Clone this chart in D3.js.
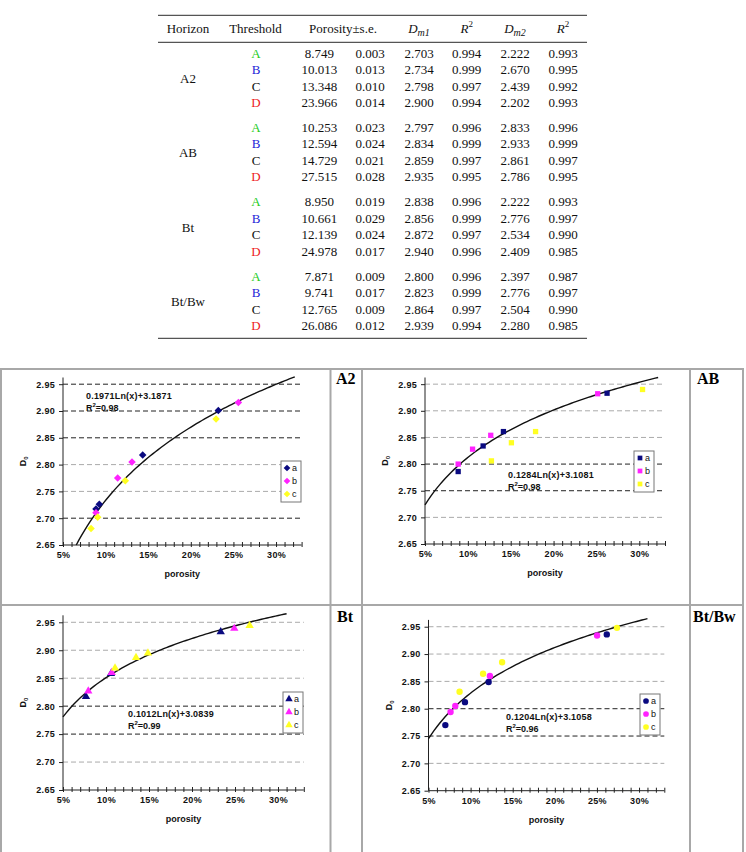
<!DOCTYPE html>
<html lang="en">
<head>
<meta charset="UTF-8">
<title>Porosity and D0</title>
<script src="https://cdn.jsdelivr.net/npm/d3@7"></script>
<style>
    body { margin: 0; background: #fff; }
    svg { display: block; }
    .tbl { font-family: "Liberation Serif", "Times New Roman", serif; font-size: 13px; fill: #111; }
    .chart text { font-family: "Liberation Sans", Arial, sans-serif; fill: #111; }
    .tick-lbl { font-size: 9px; font-weight: bold; letter-spacing: 0.3px; }
    .panel-lbl { font-size: 16px; font-weight: bold; }
</style>
</head>
<body>
<script>
// ---------------- table data ----------------
const horizons = ["A2", "AB", "Bt", "Bt/Bw"];
const thresholds = ["A", "B", "C", "D"];
const thresholdColors = ["#22cc22", "#2323d8", "#111111", "#ee1c1c"];
const porosity = [[8.749, 10.013, 13.348, 23.966], [10.253, 12.594, 14.729, 27.515], [8.950, 10.661, 12.139, 24.978], [7.871, 9.741, 12.765, 26.086]];
const porositySE = [[0.003, 0.013, 0.010, 0.014], [0.023, 0.024, 0.021, 0.028], [0.019, 0.029, 0.024, 0.017], [0.009, 0.017, 0.009, 0.012]];
const dm1 = [[2.703, 2.734, 2.798, 2.900], [2.797, 2.834, 2.859, 2.935], [2.838, 2.856, 2.872, 2.940], [2.800, 2.823, 2.864, 2.939]];
const r2m1 = [[0.994, 0.999, 0.997, 0.994], [0.996, 0.999, 0.997, 0.995], [0.996, 0.999, 0.997, 0.996], [0.996, 0.999, 0.997, 0.994]];
const dm2 = [[2.222, 2.670, 2.439, 2.202], [2.833, 2.933, 2.861, 2.786], [2.222, 2.776, 2.534, 2.409], [2.397, 2.776, 2.504, 2.280]];
const r2m2 = [[0.993, 0.995, 0.992, 0.993], [0.996, 0.999, 0.997, 0.995], [0.993, 0.997, 0.990, 0.985], [0.987, 0.997, 0.990, 0.985]];

// ---------------- chart data (porosity %, D0) ----------------
const seriesNames = ["a", "b", "c"];
const seriesColors = ["#0a0a80", "#ff22ff", "#ffff22"];
const ptsA2 = [
    [[8.87, 2.717], [9.26, 2.726], [14.35, 2.818], [23.23, 2.901]],
    [[8.87, 2.710], [11.42, 2.775], [13.10, 2.805], [25.58, 2.916]],
    [[8.29, 2.681], [9.07, 2.702], [12.31, 2.770], [22.96, 2.885]]
];
const ptsAB = [
    [[8.87, 2.786], [11.78, 2.834], [14.15, 2.861], [26.24, 2.933]],
    [[8.87, 2.800], [10.55, 2.828], [12.67, 2.854], [25.15, 2.932]],
    [[12.75, 2.806], [15.08, 2.840], [17.90, 2.861], [30.38, 2.940]]
];
const ptsBt = [
    [[7.67, 2.817], [10.58, 2.858], [23.34, 2.933]],
    [[7.94, 2.827], [10.66, 2.860], [24.92, 2.939]],
    [[11.05, 2.868], [13.49, 2.887], [14.88, 2.895], [26.70, 2.944]]
];
const ptsBtBw = [
    [[7.00, 2.770], [9.33, 2.812], [12.14, 2.849], [26.17, 2.936]],
    [[7.62, 2.794], [8.18, 2.805], [12.29, 2.860], [25.02, 2.934]],
    [[8.69, 2.831], [11.48, 2.864], [13.74, 2.885], [27.38, 2.948]]
];
// trendline y = a ln(x) + b
const trendSlope = [0.1971, 0.1284, 0.1012, 0.1204];
const trendIntercept = [3.1871, 3.1081, 3.0839, 3.1058];
const trendR2 = ["0.98", "0.98", "0.99", "0.96"];
const trendEnd = [0.322, 0.322, 0.31, 0.31];
const yTicks = [2.65, 2.70, 2.75, 2.80, 2.85, 2.90, 2.95];
const xTicks = d3.range(5, 34).map(d => d / 100);

// ---------------- layout ----------------
const W = 746, H = 852;
const svg = d3.select("body").append("svg").attr("width", W).attr("height", H);

/*------------------- table -------------------*/
const tbl = svg.append("g").attr("class", "tbl");
const colX = { hor: 188, thr: 256, por: 319.3, se: 370, dm1: 419, r1: 466.7, dm2: 515, r2: 563 };
const fmt = d3.format(".3f");

[15.3, 42.3, 338.3].forEach(y => {
    tbl.append("line").attr("x1", 158).attr("x2", 587).attr("y1", y).attr("y2", y)
        .attr("stroke", "#555").attr("stroke-width", 1.2);
});

// header
const hy = 33;
tbl.append("text").attr("x", colX.hor).attr("y", hy).attr("text-anchor", "middle").text("Horizon");
tbl.append("text").attr("x", 255.5).attr("y", hy).attr("text-anchor", "middle").text("Threshold");
tbl.append("text").attr("x", 343).attr("y", hy).attr("text-anchor", "middle").text("Porosity±s.e.");
function dHeader(x, sub) {
    const t = tbl.append("text").attr("x", x).attr("y", hy).attr("text-anchor", "middle");
    t.append("tspan").attr("font-style", "italic").text("D");
    t.append("tspan").attr("font-style", "italic").attr("font-size", "10px").attr("dy", 3).text(sub);
}
function rHeader(x) {
    const t = tbl.append("text").attr("x", x).attr("y", hy).attr("text-anchor", "middle");
    t.append("tspan").attr("font-style", "italic").text("R");
    t.append("tspan").attr("font-size", "9px").attr("dy", -6).text("2");
}
dHeader(colX.dm1, "m1");
rHeader(colX.r1);
dHeader(colX.dm2, "m2");
rHeader(colX.r2);

horizons.forEach((h, g) => {
    const rowY = r => 57.5 + g * 74.4 + r * 16.5;
    tbl.append("text").attr("x", colX.hor).attr("y", (rowY(0) + rowY(3)) / 2 + 0.5)
        .attr("text-anchor", "middle").text(h);
    thresholds.forEach((t, r) => {
        const y = rowY(r);
        tbl.append("text").attr("x", colX.thr).attr("y", y).attr("text-anchor", "middle")
            .style("fill", thresholdColors[r]).text(t);
        const vals = [[colX.por, porosity[g][r]], [colX.se, porositySE[g][r]], [colX.dm1, dm1[g][r]],
                      [colX.r1, r2m1[g][r]], [colX.dm2, dm2[g][r]], [colX.r2, r2m2[g][r]]];
        vals.forEach(([x, v]) => {
            tbl.append("text").attr("x", x).attr("y", y).attr("text-anchor", "middle").text(fmt(v));
        });
    });
});

/*------------------- panel frame -------------------*/
const frame = svg.append("g").attr("stroke", "#a8a8a8").attr("stroke-width", 2);
[[0, 369, 744, 369], [0, 605, 744, 605], [1, 369, 1, 852], [330.5, 369, 330.5, 852],
 [362, 369, 362, 852], [690, 369, 690, 852], [743, 369, 743, 852]].forEach(l => {
    frame.append("line").attr("x1", l[0]).attr("y1", l[1]).attr("x2", l[2]).attr("y2", l[3]);
});

/*------------------- charts -------------------*/
const panels = [
    { pts: ptsA2, sym: d3.symbolDiamond2, size: 36, left: 63, right: 301.6, bottom: 545, top: 377.5,
      dark: [2.95, 2.90, 2.85, 2.70], lblX: 336, lblY: 384, eqX: 86, eqY: 399, legX: 281, legY: 461 },
    { pts: ptsAB, sym: d3.symbolSquare, size: 28, left: 425, right: 665, bottom: 544, top: 377.5,
      dark: [2.80, 2.75], lblX: 697, lblY: 384, eqX: 508, eqY: 478, legX: 634, legY: 451 },
    { pts: ptsBt, sym: d3.symbolTriangle, size: 30, left: 63, right: 303.8, bottom: 790, top: 615.3,
      dark: [2.80, 2.75], lblX: 337, lblY: 622, eqX: 128, eqY: 717, legX: 283, legY: 692 },
    { pts: ptsBtBw, sym: d3.symbolCircle, size: 32, left: 428.5, right: 664.3, bottom: 790.7, top: 619.9,
      dark: [2.80, 2.75], lblX: 693, lblY: 622, eqX: 506, eqY: 720, legX: 640, legY: 694 }
];

panels.forEach((p, i) => {
    const g = svg.append("g").attr("class", "chart");
    const x = d3.scaleLinear().domain([0.05, 0.33]).range([p.left, p.right]);
    const y = d3.scaleLinear().domain([2.65, 2.9625]).range([p.bottom, p.top]);

    // gridlines
    g.selectAll(".grid").data(yTicks.slice(1)).enter().append("line")
        .attr("x1", p.left).attr("x2", p.right)
        .attr("y1", d => y(d)).attr("y2", d => y(d))
        .attr("stroke", d => p.dark.some(v => Math.abs(v - d) < 1e-6) ? "#222" : "#aaa")
        .attr("stroke-width", 1)
        .attr("stroke-dasharray", "5,3");

    // y axis
    const yAxis = g.append("g").attr("transform", `translate(${p.left},0)`)
        .call(d3.axisLeft(y).tickValues(yTicks).tickSize(4).tickFormat(d3.format(".2f")));
    yAxis.select(".domain").attr("stroke", "#222").attr("d", `M0,${p.bottom}V${p.top}`);
    yAxis.selectAll(".tick line").attr("stroke", "#222");
    yAxis.selectAll(".tick text").attr("class", "tick-lbl").attr("x", -8);

    // x axis
    const xAxis = g.append("g").attr("transform", `translate(0,${p.bottom})`)
        .call(d3.axisBottom(x).tickValues(xTicks).tickSize(2)
            .tickFormat(d => Math.round(d * 100) % 5 === 0 ? Math.round(d * 100) + "%" : ""));
    xAxis.select(".domain").attr("stroke", "#222").attr("d", `M${p.left},0H${p.right}`);
    xAxis.selectAll(".tick line").attr("stroke", "#222").attr("y1", -3);
    xAxis.selectAll(".tick text").attr("class", "tick-lbl").attr("y", 7);
    g.selectAll(".tick text").style("fill", "#111");

    // axis titles
    g.append("text").attr("x", (p.left + p.right) / 2).attr("y", p.bottom + 32)
        .attr("text-anchor", "middle").attr("font-size", "9px").attr("font-weight", "bold").text("porosity");
    const yt = g.append("text")
        .attr("transform", `translate(${p.left - 37},${(p.top + p.bottom) / 2}) rotate(-90)`)
        .attr("text-anchor", "middle").attr("font-size", "9px").attr("font-weight", "bold");
    yt.append("tspan").text("D");
    yt.append("tspan").attr("font-size", "6px").attr("dy", 2).text("0");

    // trendline
    const a = trendSlope[i], b = trendIntercept[i];
    const x0 = Math.max(0.05, Math.exp((2.65 - b) / a));
    const xs = d3.range(0, 81).map(k => x0 + (trendEnd[i] - x0) * k / 80);
    g.append("path").datum(xs)
        .attr("d", d3.line().x(d => x(d)).y(d => y(a * Math.log(d) + b)))
        .attr("fill", "none").attr("stroke", "#111").attr("stroke-width", 1.4);

    // points
    p.pts.forEach((s, si) => {
        g.selectAll(".pt" + si).data(s).enter().append("path")
            .attr("transform", d => `translate(${x(d[0] / 100)},${y(d[1])})`)
            .attr("d", d3.symbol().type(p.sym).size(p.size))
            .attr("fill", seriesColors[si]);
    });

    // equation
    g.append("text").attr("x", p.eqX).attr("y", p.eqY).attr("font-size", "9px").attr("font-weight", "bold")
        .attr("letter-spacing", "0.2px").text(`${a}Ln(x)+${b}`);
    const r2 = g.append("text").attr("x", p.eqX).attr("y", p.eqY + 12).attr("font-size", "9px").attr("font-weight", "bold");
    r2.append("tspan").text("R");
    r2.append("tspan").attr("font-size", "6px").attr("dy", -4).text("2");
    r2.append("tspan").attr("dy", 4).text("=" + trendR2[i]);

    // legend
    const leg = g.append("g").attr("transform", `translate(${p.legX},${p.legY})`);
    leg.append("rect").attr("width", 20).attr("height", 41).attr("fill", "#fff")
        .attr("stroke", "#777").attr("stroke-width", 1);
    seriesNames.forEach((n, si) => {
        const ly = 7 + si * 13;
        leg.append("path").attr("transform", `translate(6,${ly})`)
            .attr("d", d3.symbol().type(p.sym).size(p.size * 0.8)).attr("fill", seriesColors[si]);
        leg.append("text").attr("x", 11).attr("y", ly + 3).attr("font-size", "9px").text(n);
    });

    // panel label
    svg.append("text").attr("class", "panel-lbl").attr("x", p.lblX).attr("y", p.lblY)
        .style("font-family", "'Liberation Serif', 'Times New Roman', serif").text(horizons[i]);
});
</script>
</body>
</html>
